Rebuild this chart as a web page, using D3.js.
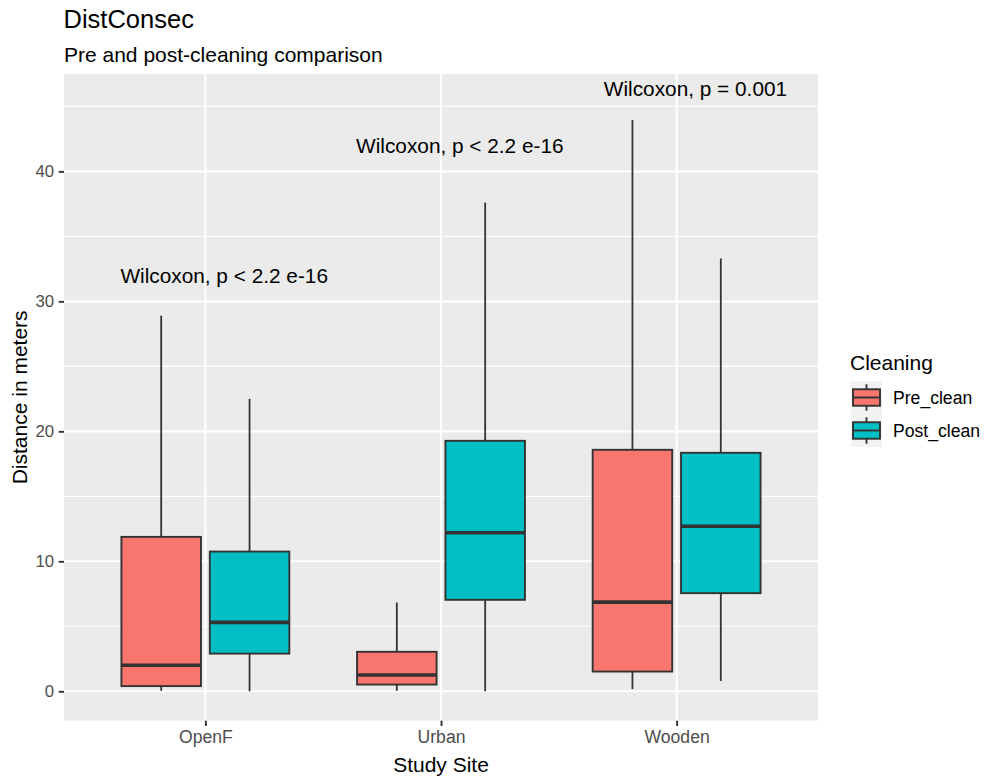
<!DOCTYPE html>
<html>
<head>
<meta charset="utf-8">
<script src="https://cdn.jsdelivr.net/npm/d3@7"></script>
<style>
  html, body { margin: 0; padding: 0; background: #ffffff; }
  svg { display: block; font-family: "Liberation Sans", Arial, sans-serif; }
</style>
</head>
<body>
<svg id="chart" width="986" height="780"></svg>
<script>
// Study sites and cleaning stages
const sites = ["OpenF", "Urban", "Wooden"];
const stages = ["Pre_clean", "Post_clean"];
const stageColors = ["#F8766D", "#00BFC4"];

// Box statistics (metres), one entry per site, for each stage
const preLow    = [0.04, 0.04, 0.17];
const preQ1     = [0.40, 0.52, 1.52];
const preMedian = [2.00, 1.25, 6.86];
const preQ3     = [11.88, 3.04, 18.58];
const preHigh   = [28.9, 6.83, 43.96];

const postLow    = [0.0, 0.0, 0.8];
const postQ1     = [2.90, 7.04, 7.55];
const postMedian = [5.30, 12.2, 12.7];
const postQ3     = [10.75, 19.27, 18.35];
const postHigh   = [22.5, 37.6, 33.3];

// Wilcoxon test labels and their heights
const testLabels = ["Wilcoxon, p < 2.2 e-16", "Wilcoxon, p < 2.2 e-16", "Wilcoxon, p = 0.001"];
const testLabelY = [32, 42, 46.4];

const yTicks = [0, 10, 20, 30, 40];
const yMinor = [5, 15, 25, 35, 45];

// Tidy rows for drawing
const boxes = [];
sites.forEach((s, i) => {
  boxes.push({ site: s, stage: stages[0], low: preLow[i], q1: preQ1[i], med: preMedian[i], q3: preQ3[i], high: preHigh[i] });
  boxes.push({ site: s, stage: stages[1], low: postLow[i], q1: postQ1[i], med: postMedian[i], q3: postQ3[i], high: postHigh[i] });
});

const svg = d3.select("#chart");
const panel = { left: 64, right: 818, top: 74, bottom: 720.7 };

// Scales
const x = d3.scalePoint().domain(sites).range([panel.left, panel.right]).padding(0.6);
const step = x.step();
const dataMax = 45.23;
const pad = dataMax * 0.05;
const y = d3.scaleLinear().domain([-pad, dataMax + pad]).range([panel.bottom, panel.top]);
const fill = d3.scaleOrdinal().domain(stages).range(stageColors);
const dodge = d3.scaleBand().domain(stages).range([-0.375 * step, 0.375 * step]);

// Panel background and grid
svg.append("rect")
  .attr("x", panel.left).attr("y", panel.top)
  .attr("width", panel.right - panel.left).attr("height", panel.bottom - panel.top)
  .attr("fill", "#EBEBEB");

svg.append("g").selectAll("line").data(yMinor).join("line")
  .attr("x1", panel.left).attr("x2", panel.right)
  .attr("y1", d => y(d)).attr("y2", d => y(d))
  .attr("stroke", "#ffffff").attr("stroke-width", 1.1);

svg.append("g").selectAll("line").data(yTicks).join("line")
  .attr("x1", panel.left).attr("x2", panel.right)
  .attr("y1", d => y(d)).attr("y2", d => y(d))
  .attr("stroke", "#ffffff").attr("stroke-width", 2.1);

svg.append("g").selectAll("line").data(sites).join("line")
  .attr("x1", d => x(d)).attr("x2", d => x(d))
  .attr("y1", panel.top).attr("y2", panel.bottom)
  .attr("stroke", "#ffffff").attr("stroke-width", 2.1);

// Boxplots
const boxW = dodge.bandwidth() * 0.9;
const g = svg.append("g").selectAll("g").data(boxes).join("g")
  .attr("transform", d => `translate(${x(d.site) + dodge(d.stage) + dodge.bandwidth() / 2},0)`);

g.append("line")
  .attr("x1", 0).attr("x2", 0)
  .attr("y1", d => y(d.q3)).attr("y2", d => y(d.high))
  .attr("stroke", "#333333").attr("stroke-width", 1.8);
g.append("line")
  .attr("x1", 0).attr("x2", 0)
  .attr("y1", d => y(d.q1)).attr("y2", d => y(d.low))
  .attr("stroke", "#333333").attr("stroke-width", 1.8);
g.append("rect")
  .attr("x", -boxW / 2).attr("width", boxW)
  .attr("y", d => y(d.q3)).attr("height", d => y(d.q1) - y(d.q3))
  .attr("fill", d => fill(d.stage))
  .attr("stroke", "#333333").attr("stroke-width", 1.9);
g.append("line")
  .attr("x1", -boxW / 2).attr("x2", boxW / 2)
  .attr("y1", d => y(d.med)).attr("y2", d => y(d.med))
  .attr("stroke", "#333333").attr("stroke-width", 3.6);

// Test annotations
svg.append("g").selectAll("text").data(sites).join("text")
  .attr("x", d => x(d) + 0.08 * step)
  .attr("y", (d, i) => y(testLabelY[i]))
  .attr("text-anchor", "middle")
  .attr("dominant-baseline", "central")
  .attr("font-size", 20.8)
  .attr("fill", "#000000")
  .text((d, i) => testLabels[i]);

// Axes
const yAxis = svg.append("g")
  .attr("transform", `translate(${panel.left},0)`)
  .call(d3.axisLeft(y).tickValues(yTicks).tickSize(5.3).tickPadding(4.5).tickFormat(d3.format("d")));
yAxis.select(".domain").remove();
yAxis.selectAll(".tick line").attr("stroke", "#333333").attr("stroke-width", 1.9);
yAxis.selectAll(".tick text").attr("fill", "#4D4D4D").attr("font-size", 16.8)
  .attr("font-family", "Liberation Sans, Arial, sans-serif");

const xAxis = svg.append("g")
  .attr("transform", `translate(0,${panel.bottom})`)
  .call(d3.axisBottom(x).tickSize(5.3).tickPadding(4.5));
xAxis.select(".domain").remove();
xAxis.selectAll(".tick line").attr("stroke", "#333333").attr("stroke-width", 1.9);
xAxis.selectAll(".tick text").attr("fill", "#4D4D4D").attr("font-size", 17.6)
  .attr("font-family", "Liberation Sans, Arial, sans-serif");

// Axis titles
svg.append("text")
  .attr("x", (panel.left + panel.right) / 2).attr("y", 772)
  .attr("text-anchor", "middle").attr("font-size", 21).attr("fill", "#000000")
  .text("Study Site");

svg.append("text")
  .attr("transform", `translate(27,${(panel.top + panel.bottom) / 2}) rotate(-90)`)
  .attr("text-anchor", "middle").attr("font-size", 21).attr("fill", "#000000")
  .text("Distance in meters");

// Titles
svg.append("text")
  .attr("x", 63.5).attr("y", 27.5)
  .attr("font-size", 25.5).attr("fill", "#000000")
  .text("DistConsec");
svg.append("text")
  .attr("x", 64).attr("y", 61.5)
  .attr("font-size", 21).attr("fill", "#000000")
  .text("Pre and post-cleaning comparison");

// Legend
const legend = svg.append("g").attr("transform", "translate(850,0)");
legend.append("text")
  .attr("x", 0).attr("y", 369.5)
  .attr("font-size", 21).attr("fill", "#000000")
  .text("Cleaning");

const keySize = 33;
const keys = legend.selectAll("g.key").data(stages).join("g")
  .attr("class", "key")
  .attr("transform", (d, i) => `translate(1,${381 + i * keySize})`);
keys.append("rect")
  .attr("width", keySize - 2).attr("height", keySize)
  .attr("fill", "#F2F2F2");
keys.append("line")
  .attr("x1", (keySize - 2) / 2).attr("x2", (keySize - 2) / 2)
  .attr("y1", keySize * 0.1).attr("y2", keySize * 0.9)
  .attr("stroke", "#333333").attr("stroke-width", 1.9);
keys.append("rect")
  .attr("x", 2).attr("width", keySize - 6)
  .attr("y", keySize * 0.25).attr("height", keySize * 0.5)
  .attr("fill", d => fill(d))
  .attr("stroke", "#333333").attr("stroke-width", 1.9);
keys.append("line")
  .attr("x1", 2).attr("x2", keySize - 4)
  .attr("y1", keySize / 2).attr("y2", keySize / 2)
  .attr("stroke", "#333333").attr("stroke-width", 1.9);
keys.append("text")
  .attr("x", 42).attr("y", keySize / 2)
  .attr("dominant-baseline", "central")
  .attr("font-size", 17.6).attr("fill", "#000000")
  .text(d => d);
</script>
</body>
</html>
